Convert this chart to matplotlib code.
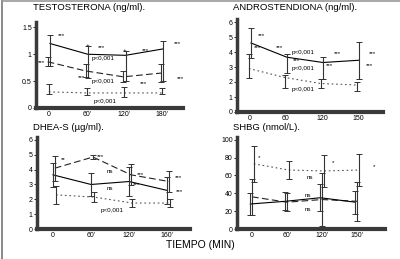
import numpy as np
import matplotlib
matplotlib.use('Agg')
import matplotlib.pyplot as plt
from matplotlib.lines import Line2D

plt.rcParams['font.family'] = ['Liberation Sans', 'DejaVu Sans']

# -- DATA
xpos = [0, 1, 2, 3]

# testosterona (ng/ml)
testo_lab = ["0", "60'", "120'", "180'"]
testo_solid = [1.20, 1.00, 0.98, 1.10]
testo_solid_lo = [0.42, 0.45, 0.48, 0.60]
testo_solid_hi = [0.16, 0.16, 0.08, 0.15]
testo_dash = [0.86, 0.69, 0.58, 0.65]
testo_dash_err = [0.08, 0.12, 0.10, 0.17]
testo_dot = [0.30, 0.28, 0.28, 0.28]
testo_dot_lo = [0.04, 0.03, 0.08, 0.02]
testo_dot_hi = [0.15, 0.10, 0.12, 0.10]
testo_notes = [(0.34, 1.35, '***'), (-0.19, 0.85, '***'), (1.03, 1.17, '+'),
               (1.40, 1.13, '***'), (2.0, 1.07, '+'), (2.55, 1.07, '***'),
               (3.40, 1.20, '***'), (1.43, 0.93, 'p<0,001'), (0.87, 0.57, '***'),
               (1.43, 0.50, 'p<0,001'), (2.50, 0.46, '***'), (3.47, 0.54, '***'),
               (1.48, 0.13, 'p<0,001')]

# androstendiona (ng/ml)
andro_lab = ["0", "60", "120", "150"]
andro_solid = [4.60, 3.65, 3.30, 3.45]
andro_solid_lo = [1.00, 1.05, 1.10, 1.25]
andro_solid_hi = [1.00, 0.25, 0.40, 1.25]
andro_dot = [2.90, 2.30, 1.90, 1.80]
andro_dot_lo = [0.60, 0.70, 0.30, 0.40]
andro_dot_hi = [1.00, 0.20, 0.30, 0.20]
andro_notes = [(0.33, 5.07, '***'), (0.22, 4.27, '***'), (0.83, 4.33, '***'),
               (1.47, 4.00, 'p<0,001'), (1.30, 3.40, '***'), (1.47, 2.87, 'p<0,001'),
               (2.44, 3.93, '***'), (2.22, 3.13, '***'), (1.47, 1.47, 'p<0,001'),
               (3.42, 3.87, '***'), (3.33, 3.13, '***')]

# DHEA-S (ug/ml)
dhea_lab = ["0", "60'", "120'", "160'"]
dhea_solid = [3.65, 3.00, 3.20, 2.60]
dhea_solid_err = [0.80, 0.80, 1.00, 0.90]
dhea_dash = [4.10, 4.85, 3.65, 3.20]
dhea_dash_err = [0.85, 0.15, 0.70, 0.70]
dhea_dot = [2.30, 2.15, 1.75, 1.75]
dhea_dot_err = [0.60, 0.35, 0.30, 0.30]
dhea_notes = [(0.26, 4.66, '**'), (1.25, 4.86, '***'), (1.49, 3.85, 'ns'),
              (1.49, 2.70, 'ns'), (2.30, 3.65, '***'), (2.20, 2.97, '***'),
              (3.29, 3.50, '***'), (3.32, 2.50, '***'), (1.54, 1.28, 'p<0,001')]

# SHBG (nmol/L)
shbg_lab = ["0", "60'", "120'", "150'"]
shbg_dot = [73, 66, 65, 66]
shbg_dot_err = [20, 10, 18, 18]
shbg_dash = [36, 30, 33, 31]
shbg_dash_err = [20, 10, 30, 22]
shbg_solid = [28, 31, 35, 30]
shbg_solid_err = [12, 10, 15, 13]
shbg_notes = [(0.20, 80, '*'), (1.66, 58, 'ns'), (1.60, 37, 'ns'),
              (1.60, 22, 'ns'), (2.31, 74, '*'), (3.49, 70, '*')]

W, H = 400, 259


def series(ax, y, err, ls, col, dx):
    x = np.array(xpos) + dx
    ax.plot(x, y, ls=ls, color=col, lw=0.8)
    ax.errorbar(x, y, yerr=err, fmt='none', ecolor='#333333', elinewidth=0.8,
                capsize=2, capthick=0.7)


def style(ax, title, tx, ty, labels, yticks, ytl, xlim, ylim):
    ax.set_xlim(*xlim)
    ax.set_ylim(*ylim)
    ax.set_xticks(xpos)
    ax.set_xticklabels(labels, fontsize=5)
    ax.tick_params(axis='x', length=0, pad=2.5)
    ax.set_yticks(yticks)
    ax.set_yticklabels(ytl, fontsize=5)
    ax.tick_params(axis='y', length=2, width=0.6, pad=1)
    for s in ['top', 'right']:
        ax.spines[s].set_visible(False)
    ax.spines['left'].set_linewidth(2.5)
    ax.spines['bottom'].set_linewidth(3)
    ax.spines['left'].set_color('#3a3a3a')
    ax.spines['bottom'].set_color('#3a3a3a')
    fig.text(tx / W, 1 - ty / H, title, fontsize=6.8, ha='left', va='center')


def notes(ax, lst):
    for x, y, t in lst:
        ax.text(x, y, t, fontsize=4.5, ha='center', va='center')


fig = plt.figure(figsize=(4, 2.59), dpi=100)


def box(l, r, b, t):
    return [l / W, 1 - b / H, (r - l) / W, (b - t) / H]


# top left
ax1 = fig.add_axes(box(36, 183, 108, 22))
series(ax1, testo_solid, [testo_solid_lo, testo_solid_hi], '-', 'black', 0.03)
series(ax1, testo_dash, testo_dash_err, (0, (6, 3)), '#222222', -0.03)
series(ax1, testo_dot, [testo_dot_lo, testo_dot_hi], (0, (1.5, 2.5)), '#555555', 0.0)
style(ax1, 'TESTOSTERONA (ng/ml).', 33, 8, testo_lab, [0, 0.5, 1, 1.5],
      ['0', '0.5', '1', '1.5'], (-0.34, 3.55), (0, 1.6))
notes(ax1, testo_notes)

# top right
ax2 = fig.add_axes(box(237, 383, 112, 19))
series(ax2, andro_solid, [andro_solid_lo, andro_solid_hi], '-', 'black', 0.03)
series(ax2, andro_dot, [andro_dot_lo, andro_dot_hi], (0, (1.5, 2.5)), '#555555', -0.03)
style(ax2, 'ANDROSTENDIONA (ng/ml).', 233, 7, andro_lab, range(7),
      [str(i) for i in range(7)], (-0.36, 3.7), (0, 6.2))
notes(ax2, andro_notes)

# bottom left
ax3 = fig.add_axes(box(37, 190, 229, 137))
series(ax3, dhea_solid, dhea_solid_err, '-', 'black', 0.0)
series(ax3, dhea_dash, dhea_dash_err, (0, (6, 3)), '#222222', 0.05)
series(ax3, dhea_dot, dhea_dot_err, (0, (1.5, 2.5)), '#555555', 0.08)
style(ax3, 'DHEA-S (µg/ml).', 33, 127, dhea_lab, range(7),
      [str(i) for i in range(7)], (-0.42, 3.6), (0, 6.2))
notes(ax3, dhea_notes)

# bottom right
ax4 = fig.add_axes(box(237, 385, 229, 137))
series(ax4, shbg_dot, shbg_dot_err, (0, (1.5, 2.5)), '#555555', 0.05)
series(ax4, shbg_dash, shbg_dash_err, (0, (6, 3)), '#222222', 0.0)
series(ax4, shbg_solid, shbg_solid_err, '-', 'black', -0.05)
style(ax4, 'SHBG (nmol/L).', 233, 127, shbg_lab, [0, 20, 40, 60, 80, 100],
      ['0', '20', '40', '60', '80', '100'], (-0.43, 3.8), (0, 103))
notes(ax4, shbg_notes)

fig.text(0.5, 1 - 245 / H, 'TIEMPO (MIN)', fontsize=7.5, ha='center', va='center')

# scanned page border
fig.add_artist(Line2D([2 / W, 2 / W], [0, 1], color='#777777', lw=1.2))
fig.add_artist(Line2D([2 / W, 1], [1 - 1 / H, 1 - 1 / H], color='#999999', lw=1.2))

fig.savefig('out.png', dpi=100)
